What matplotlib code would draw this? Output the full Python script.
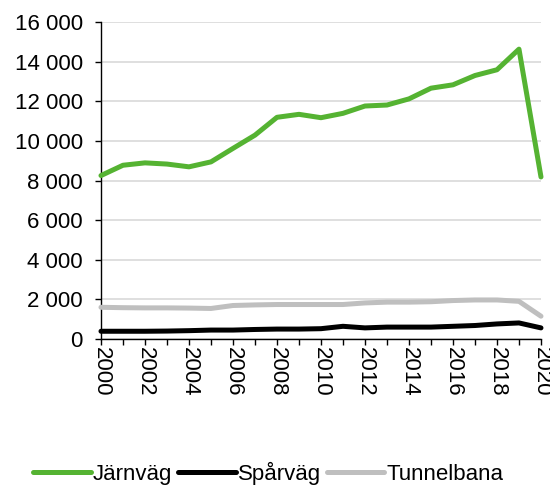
import matplotlib
matplotlib.use("Agg")
import matplotlib.pyplot as plt
import numpy as np

plt.rcParams['font.family'] = ['Liberation Sans', 'DejaVu Sans']

years = list(range(2000, 2021))
jarnvag = [8250, 8770, 8890, 8830, 8690, 8940, 9620, 10290, 11190, 11340, 11170,
           11390, 11760, 11810, 12120, 12660, 12830, 13300, 13590, 14630, 8180]
sparvag = [390, 390, 390, 400, 420, 450, 450, 480, 500, 500, 520,
           640, 560, 600, 600, 600, 640, 680, 760, 810, 560]
tunnelbana = [1600, 1580, 1570, 1570, 1560, 1540, 1690, 1720, 1740, 1740, 1740,
              1740, 1820, 1860, 1860, 1880, 1940, 1970, 1970, 1900, 1150]
series_names = ["Järnväg", "Spårväg", "Tunnelbana"]
colors = ["#55b332", "#000000", "#bfbfbf"]
yticks = list(range(0, 16001, 2000))

fig = plt.figure(figsize=(5.5, 4.86), dpi=100)
ax = fig.add_axes([0.1836, 0.3025, 0.80, 0.6522])

for vals, name, c in zip([jarnvag, sparvag, tunnelbana], series_names, colors):
    ax.plot(years, vals, color=c, lw=3.6, label=name, solid_capstyle='round',
            solid_joinstyle='round', zorder=3, clip_on=False)

ax.set_xlim(2000, 2020)
ax.set_ylim(0, 16000)
ax.set_yticks(yticks)
ax.set_yticklabels([f"{v:,}".replace(",", " ") for v in yticks], fontsize=16)
ax.set_xticks(years)
ax.set_xticklabels([str(y) if y % 2 == 0 else "" for y in years], rotation=-90, fontsize=16)
ax.grid(axis='y', color='#d9d9d9', lw=1.2, zorder=0)
for s in ['top', 'right']:
    ax.spines[s].set_visible(False)
for s in ['left', 'bottom']:
    ax.spines[s].set_color('black')
    ax.spines[s].set_linewidth(1.0)
ax.tick_params(axis='both', direction='out', length=4, width=1, colors='black')
ax.tick_params(axis='y', pad=9)
ax.tick_params(axis='x', pad=2)

fig.legend(loc='center', bbox_to_anchor=(0.488, 0.026), ncol=3, frameon=False, fontsize=16,
           handlelength=2.6, handletextpad=0.1, columnspacing=0.25)

fig.savefig("out.png", dpi=100)
